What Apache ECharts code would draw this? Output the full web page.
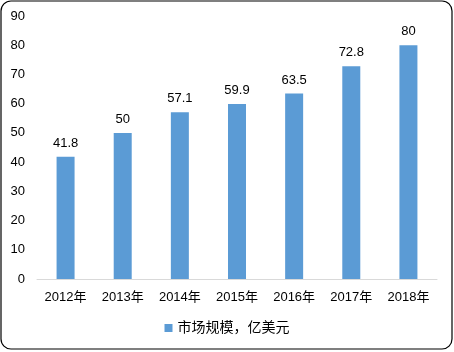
<!DOCTYPE html>
<html>
<head>
<meta charset="utf-8">
<script src="https://cdn.jsdelivr.net/npm/echarts@6/dist/echarts.min.js"></script>
<style>
html, body { margin: 0; padding: 0; background: #fff; }
#main { width: 454px; height: 352px; }
</style>
</head>
<body>
<div id="main"></div>
<script>
var years = ['2012年', '2013年', '2014年', '2015年', '2016年', '2017年', '2018年'];
var marketSize = [41.8, 50, 57.1, 59.9, 63.5, 72.8, 80];
var seriesName = '市场规模，亿美元';

var myChart = echarts.init(document.getElementById('main'));
var font = 'Liberation Sans, "Noto Sans CJK SC", sans-serif';
var option = {
    backgroundColor: '#fff',
    animation: false,
    textStyle: {fontFamily: font},
    graphic: [{
        type: 'rect',
        shape: {x: 1, y: 1, width: 451, height: 348, r: 10},
        style: {fill: 'none', stroke: '#000', lineWidth: 1.2},
        silent: true
    }],
    legend: {
        bottom: 12,
        left: 'center',
        itemWidth: 8,
        itemHeight: 8,
        itemGap: 4,
        icon: 'rect',
        textStyle: {fontSize: 14, color: '#000', fontFamily: font},
        data: [seriesName]
    },
    grid: {
        left: 37,
        right: 17,
        top: 16,
        bottom: 73,
        containLabel: false
    },
    xAxis: {
        type: 'category',
        data: years,
        axisLine: {lineStyle: {color: '#d9d9d9'}},
        axisTick: {show: false},
        axisLabel: {color: '#000', fontSize: 13, margin: 12, fontFamily: font}
    },
    yAxis: {
        type: 'value',
        min: 0,
        max: 90,
        interval: 10,
        axisLine: {show: false},
        axisTick: {show: false},
        splitLine: {show: false},
        axisLabel: {color: '#000', fontSize: 13, margin: 12, fontFamily: font}
    },
    series: [{
        name: seriesName,
        type: 'bar',
        data: marketSize,
        barWidth: 18,
        itemStyle: {color: '#5b9bd5'},
        label: {
            show: true,
            position: 'top',
            distance: 7,
            color: '#000',
            fontSize: 13,
            fontFamily: font
        }
    }]
};
myChart.setOption(option);
window.onresize = myChart.resize;
</script>
</body>
</html>
